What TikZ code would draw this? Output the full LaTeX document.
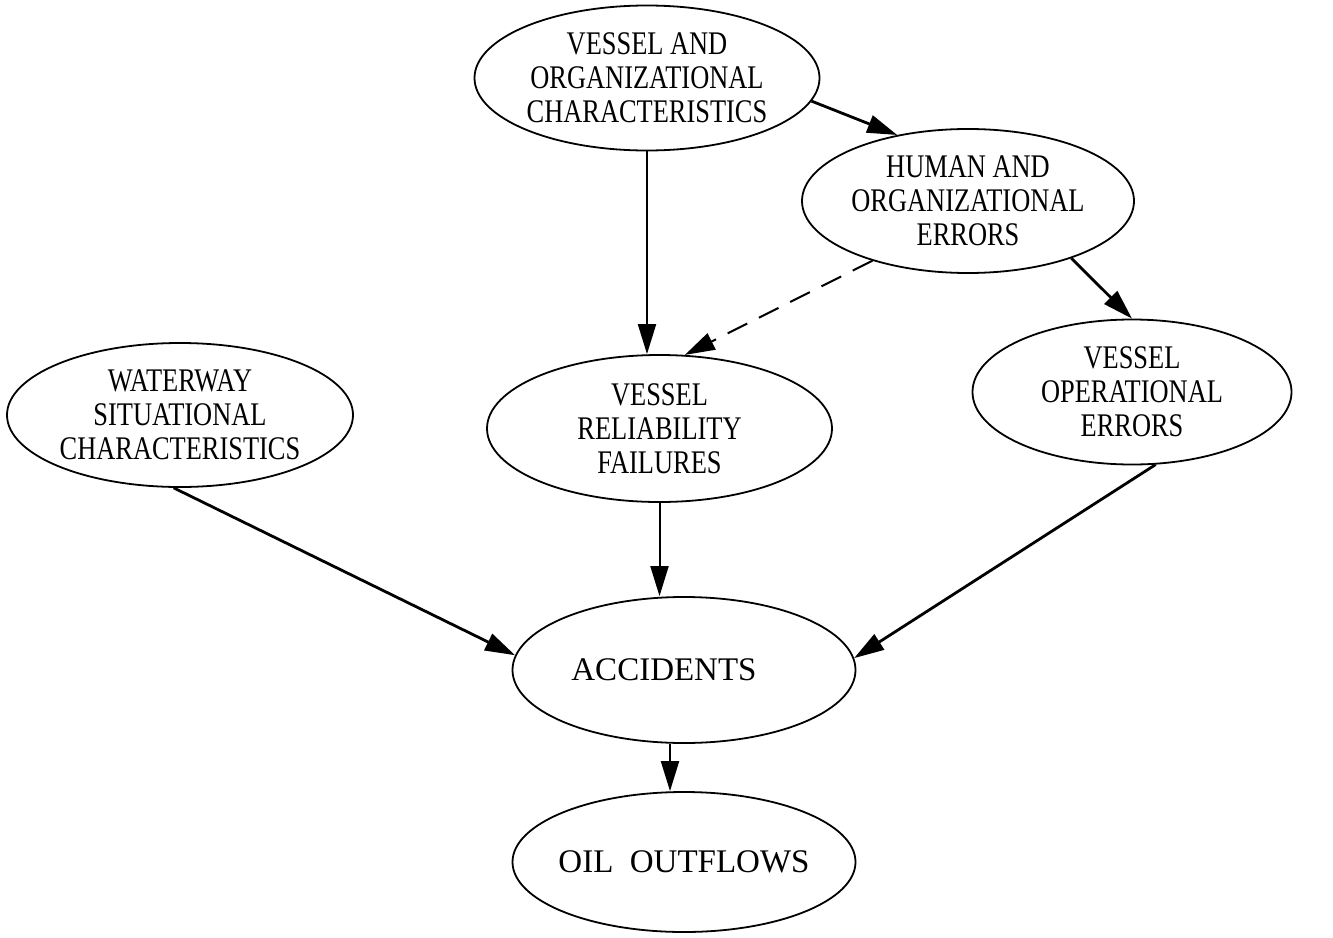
\documentclass[tikz,border=0pt]{standalone}
\usepackage{fontspec}
\setmainfont{Liberation Serif}
\newfontfamily\narrowfont[FakeStretch=0.8]{Liberation Serif}
\usetikzlibrary{
  arrows.meta,
  shapes.geometric
}
\tikzset{
  % For the ellipses of the model; the negative inner sep keeps the
  % shape at its minimum size even for long lines.
  stage/.style={
    ellipse,
    draw,
    line width=0.9pt,
    inner sep=-20pt,
    align=center,
    font=\fontsize{16.5}{17}\selectfont},
%
  % Labels of several lines are set narrower.
  narrow stage/.style={
    stage,
    font=\narrowfont\fontsize{16.5}{17}\selectfont},
%
  % For plain influences.
  link/.style={
    line width=1pt,
    -{Triangle[length=15pt,width=9pt]}},
%
  % For the heavier diagonal influences.
  strong link/.style={
    link,
    line width=1.4pt},
%
  % For the dashed influence.
  weak link/.style={
    link,
    dash pattern=on 11pt off 6.5pt}
}

\begin{document}
\begin{tikzpicture}[x=0.5pt, y=-0.5pt]
  \useasboundingbox (0,0) rectangle (1333,937);

  \node[narrow stage, minimum width=172.5pt, minimum height=72.5pt]
    (vochar) at (647,78) {VESSEL AND\\ORGANIZATIONAL\\CHARACTERISTICS};
  \node[narrow stage, minimum width=166pt, minimum height=72pt]
    (hoerr) at (968,201) {HUMAN AND\\ORGANIZATIONAL\\ERRORS};
  \node[narrow stage, minimum width=173pt, minimum height=72pt]
    (wsit) at (180,415) {WATERWAY\\SITUATIONAL\\CHARACTERISTICS};
  \node[narrow stage, minimum width=172.5pt, minimum height=73.5pt]
    (vrel) at (659.5,428.5) {VESSEL\\RELIABILITY\\FAILURES};
  \node[narrow stage, minimum width=159.5pt, minimum height=72.5pt]
    (voerr) at (1132,392) {VESSEL\\OPERATIONAL\\ERRORS};
  \node[stage, minimum width=171.5pt, minimum height=73pt]
    (acc) at (684,670) {ACCIDENTS\hspace*{20pt}};
  \node[stage, minimum width=171.5pt, minimum height=70pt]
    (oil) at (684,862) {OIL\ \ OUTFLOWS};

  \draw[link] (vochar.south) -- (vochar.south |- vrel.north);
  \draw[strong link] (vochar.-8.8) -- (hoerr.137);
  \draw[weak link] (hoerr.212.5) -- (vrel.71.8);
  \draw[strong link] (hoerr.-29) -- (voerr.north);
  \draw[strong link] (wsit.265) -- (acc.175.7);
  \draw[link] (vrel.south) -- (vrel.south |- acc.north);
  \draw[strong link] (voerr.-72.5) -- (acc.4.7);
  \draw[link] ([xshift=-7pt]acc.south) -- ([xshift=-7pt]acc.south |- oil.north);
\end{tikzpicture}
\end{document}
